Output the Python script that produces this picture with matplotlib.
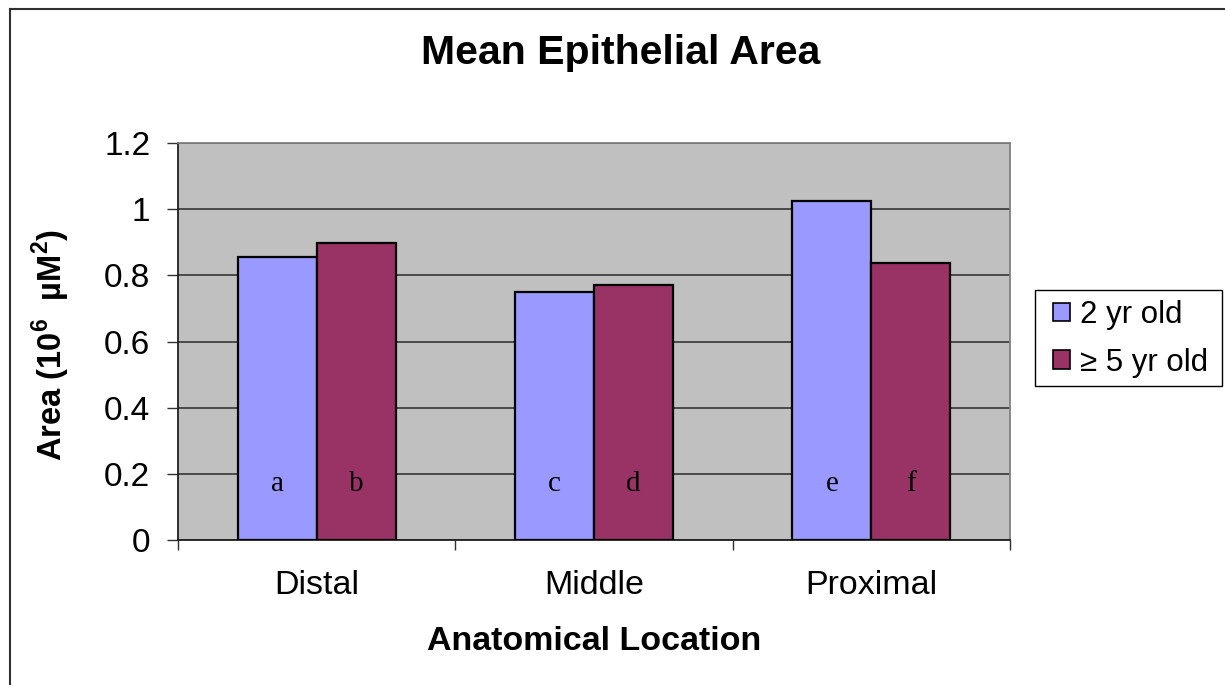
import matplotlib
matplotlib.use("Agg")
import matplotlib.pyplot as plt
from matplotlib.lines import Line2D
from matplotlib.patches import Rectangle
import numpy as np

# data
locations = ["Distal", "Middle", "Proximal"]
series_names = ["2 yr old", "\u2265 5 yr old"]
area_2yr = [0.855, 0.75, 1.025]
area_5yr = [0.897, 0.77, 0.837]
letters_2yr = ["a", "c", "e"]
letters_5yr = ["b", "d", "f"]
yticks = [0, 0.2, 0.4, 0.6, 0.8, 1, 1.2]
ytick_labels = ["0", "0.2", "0.4", "0.6", "0.8", "1", "1.2"]

plt.rcParams["font.family"] = ["Liberation Sans", "DejaVu Sans"]
plt.rcParams["mathtext.fontset"] = "custom"
plt.rcParams["mathtext.rm"] = "Liberation Sans"
plt.rcParams["mathtext.bf"] = "Liberation Sans:bold"

W, H = 1225, 685
fig = plt.figure(figsize=(W / 100, H / 100), dpi=100)
fig.patch.set_facecolor("white")
ax = fig.add_axes([178 / W, 1 - 540 / H, 832 / W, 397 / H])
ax.set_facecolor("#C0C0C0")

x = np.arange(len(locations))
w = 0.285
ax.set_axisbelow(True)
ax.yaxis.grid(True, color="#404040", linewidth=1.3)
ax.bar(x - w / 2, area_2yr, w, color="#9999FF", edgecolor="black",
       linewidth=1.6, label=series_names[0], zorder=3)
ax.bar(x + w / 2, area_5yr, w, color="#993366", edgecolor="black",
       linewidth=1.6, label=series_names[1], zorder=3)

for i in range(len(locations)):
    ax.text(x[i] - w / 2, 0.17, letters_2yr[i], ha="center", va="center",
            fontsize=21, family="Liberation Serif", zorder=4)
    ax.text(x[i] + w / 2, 0.17, letters_5yr[i], ha="center", va="center",
            fontsize=21, family="Liberation Serif", zorder=4)

ax.set_xlim(-0.5, 2.5)
ax.set_ylim(0, 1.2)
ax.set_yticks(yticks)
ax.set_yticklabels(ytick_labels, fontsize=24)
ax.tick_params(axis="y", direction="out", length=8, width=1, pad=12,
               color="#303030")
ax.set_xticks(x)
ax.set_xticklabels(locations, fontsize=24.5)
ax.tick_params(axis="x", length=0, pad=21.5)
ax.set_xticks([-0.5, 0.5, 1.5, 2.5], minor=True)
ax.tick_params(axis="x", which="minor", direction="out", length=7,
               width=1, color="#303030")

for s in ["left", "bottom"]:
    ax.spines[s].set_color("#202020")
    ax.spines[s].set_linewidth(1.3)
for s in ["top", "right"]:
    ax.spines[s].set_color("#808080")
    ax.spines[s].set_linewidth(1.3)

fig.text(621 / W, 1 - 64 / H, "Mean Epithelial Area", fontsize=29.5,
         fontweight="bold", ha="center", va="baseline")
ax.set_xlabel("Anatomical Location", fontsize=24.5, fontweight="bold",
              va="baseline")
ax.xaxis.set_label_coords(0.5, -0.277)
ax.set_ylabel(r"Area (10$^\mathbf{6}$  µM$^\mathbf{2}$)", fontsize=23.5,
              fontweight="bold", va="center")
ax.yaxis.set_label_coords(-0.1526, 0.491)

# legend box, drawn beneath the legend entries
fig.add_artist(Rectangle((1035 / W, 1 - 386 / H), 187 / W, 96 / H,
                         transform=fig.transFigure, facecolor="white",
                         edgecolor="black", linewidth=1.0, zorder=-1))
leg = ax.legend(loc="upper left", bbox_to_anchor=(1053 / W, 1 - 300 / H),
                bbox_transform=fig.transFigure, fontsize=22.5, frameon=False,
                handlelength=0.55, handleheight=0.55, handletextpad=0.33,
                borderpad=0, labelspacing=0.56, borderaxespad=0)
leg.set_zorder(10)
for h in leg.legend_handles:
    h.set_linewidth(1.2)

# outer chart frame (top and left edges visible)
fig.add_artist(Line2D([10 / W, 1], [1 - 9 / H, 1 - 9 / H],
                      color="#303030", linewidth=1.5,
                      transform=fig.transFigure))
fig.add_artist(Line2D([10 / W, 10 / W], [0, 1 - 9 / H],
                      color="#303030", linewidth=1.5,
                      transform=fig.transFigure))

fig.savefig("out.png", dpi=100, facecolor="white")
